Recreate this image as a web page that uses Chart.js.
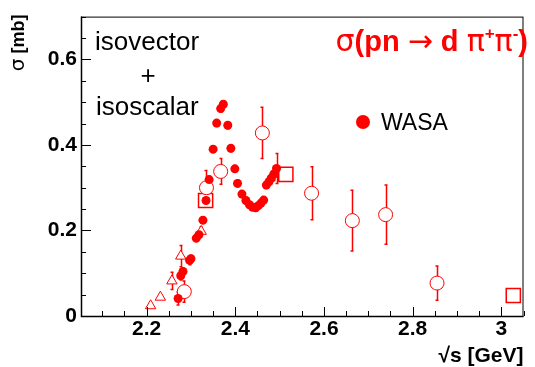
<!DOCTYPE html>
<html>
<head>
<meta charset="utf-8">
<script src="https://cdn.jsdelivr.net/npm/chart.js@4.4.0/dist/chart.umd.min.js"></script>
<style>
  html, body { margin: 0; padding: 0; background: #fff; }
</style>
</head>
<body>
<canvas id="chart" width="535" height="367"></canvas>
<script>
// WASA data (filled dots)
const wasaX = [2.271, 2.277, 2.282, 2.297, 2.300, 2.312, 2.318, 2.327, 2.334, 2.341,
               2.350, 2.358, 2.367, 2.373, 2.383, 2.390, 2.399, 2.405, 2.415, 2.424,
               2.432, 2.439, 2.446, 2.452, 2.458, 2.464, 2.470, 2.476, 2.481, 2.487, 2.493];
const wasaY = [0.041, 0.094, 0.104, 0.130, 0.134, 0.182, 0.190, 0.224, 0.270, 0.319,
               0.390, 0.451, 0.485, 0.495, 0.446, 0.392, 0.344, 0.310, 0.285, 0.270,
               0.260, 0.254, 0.253, 0.258, 0.264, 0.271, 0.306, 0.314, 0.322, 0.332, 0.345];
const wasaErr = [0.015, 0.010, 0.008, 0.010, 0.008, 0.008, 0.008, 0.008, 0.008, 0.008,
                 0.008, 0.008, 0.008, 0.008, 0.008, 0.008, 0.008, 0.008, 0.008, 0.008,
                 0.006, 0.006, 0.006, 0.006, 0.006, 0.006, 0.008, 0.008, 0.010, 0.015, 0.035];

// older measurements: open circles
const circleX = [2.285, 2.335, 2.367, 2.461, 2.572, 2.664, 2.739, 2.855];
const circleY = [0.057, 0.300, 0.338, 0.428, 0.287, 0.223, 0.237, 0.077];
const circleErr = [0.025, 0.040, 0.030, 0.060, 0.062, 0.071, 0.069, 0.040];

// open squares
const squareX = [2.333, 2.514, 3.027];
const squareY = [0.270, 0.331, 0.048];
const squareErr = [0.0, 0.0, 0.010];

// open triangles
const triX = [2.209, 2.231, 2.257, 2.277, 2.323];
const triY = [0.024, 0.044, 0.082, 0.140, 0.198];
const triErr = [0.0, 0.0, 0.020, 0.025, 0.010];

// axis ticks
const xMajor = [2.2, 2.4, 2.6, 2.8, 3.0];
const xTickLabels = ['2.2', '2.4', '2.6', '2.8', '3'];
const yMajor = [0, 0.2, 0.4, 0.6];
const yTickLabels = ['0', '0.2', '0.4', '0.6'];

const RED = '#ff0000';
const TICK_FONT = { family: 'Liberation Sans, Arial, sans-serif', size: 21, weight: 'bold' };

function minorList(from, to, step) {
    const out = [];
    for (let v = from; v <= to + 1e-9; v += step) out.push(Math.round(v * 1000) / 1000);
    return out;
}
const xTicks = minorList(2.1, 3.05, 0.05);
const yTicks = minorList(0, 0.7, 0.05);

function isMajor(list, v) {
    return list.findIndex(m => Math.abs(m - v) < 1e-6);
}

function toPoints(xs, ys) {
    return xs.map((x, i) => ({ x: x, y: ys[i] }));
}

// error bars, frame with inward ticks, and the texts (ROOT style)
const rootStyle = {
    id: 'rootStyle',
    beforeDatasetsDraw(chart) {
        const ctx = chart.ctx;
        const xs = chart.scales.x, ys = chart.scales.y;
        const sets = [[wasaX, wasaY, wasaErr], [circleX, circleY, circleErr],
                      [squareX, squareY, squareErr], [triX, triY, triErr]];
        ctx.save();
        ctx.strokeStyle = RED;
        ctx.lineWidth = 1.5;
        sets.forEach(([X, Y, E]) => {
            X.forEach((x, i) => {
                if (!E[i]) return;
                const px = Math.round(xs.getPixelForValue(x)) + 0.5;
                const top = ys.getPixelForValue(Y[i] + E[i]);
                const bot = ys.getPixelForValue(Y[i] - E[i]);
                ctx.beginPath();
                ctx.moveTo(px, top); ctx.lineTo(px, bot);
                ctx.moveTo(px - 2, top); ctx.lineTo(px + 1, top);
                ctx.moveTo(px - 2, bot); ctx.lineTo(px + 1, bot);
                ctx.stroke();
            });
        });
        ctx.restore();
    },
    afterDraw(chart) {
        const ctx = chart.ctx;
        const a = chart.chartArea;
        const xs = chart.scales.x, ys = chart.scales.y;
        ctx.save();
        ctx.strokeStyle = '#000';
        ctx.lineWidth = 1;
        ctx.strokeRect(a.left + 0.5, a.top + 0.5, a.right - a.left - 1, a.bottom - a.top);
        ctx.lineWidth = 1.5;
        ctx.beginPath();
        ctx.moveTo(a.left + 0.5, a.top); ctx.lineTo(a.left + 0.5, a.bottom + 0.5);
        ctx.lineTo(a.right, a.bottom + 0.5);
        ctx.stroke();
        ctx.lineWidth = 1;
        ctx.beginPath();
        xTicks.forEach(v => {
            const px = Math.round(xs.getPixelForValue(v)) + 0.5;
            const len = isMajor(xMajor, v) >= 0 ? 9 : 5;
            ctx.moveTo(px, a.bottom); ctx.lineTo(px, a.bottom - len);
        });
        yTicks.forEach(v => {
            const py = Math.round(ys.getPixelForValue(v)) + 0.5;
            const len = isMajor(yMajor, v) >= 0 ? 10 : 5;
            ctx.moveTo(a.left, py); ctx.lineTo(a.left + len, py);
        });
        ctx.stroke();

        // axis titles
        ctx.fillStyle = '#000';
        ctx.textBaseline = 'alphabetic';
        ctx.textAlign = 'right';
        ctx.font = 'bold 21px "Liberation Sans", Arial, sans-serif';
        ctx.fillText('\u221As [GeV]', a.right, 362);

        ctx.save();
        ctx.translate(24, a.top - 2);
        ctx.rotate(-Math.PI / 2);
        ctx.textAlign = 'right';
        ctx.font = 'bold 18px "Liberation Sans", Arial, sans-serif';
        const mb = ' [mb]';
        ctx.fillText(mb, 0, 0);
        const w = ctx.measureText(mb).width;
        ctx.font = '20px "DejaVu Sans", sans-serif';
        ctx.fillText('\u03C3', -w, 0);
        ctx.restore();

        // isovector + isoscalar
        ctx.textAlign = 'left';
        ctx.font = '26px "Liberation Sans", Arial, sans-serif';
        ctx.fillText('isovector', 95, 50);
        ctx.textAlign = 'center';
        ctx.fillText('+', 148, 84);
        ctx.textAlign = 'left';
        ctx.fillText('isoscalar', 96, 115);

        // legend
        ctx.fillStyle = RED;
        ctx.beginPath();
        ctx.arc(363, 122, 7, 0, Math.PI * 2);
        ctx.fill();
        ctx.fillStyle = '#000';
        ctx.font = '23px "Liberation Sans", Arial, sans-serif';
        ctx.fillText('WASA', 381, 130);

        // title sigma(pn -> d pi+ pi-)
        ctx.fillStyle = RED;
        const big = 'bold 29px "Liberation Sans", Arial, sans-serif';
        const sym = '30px "DejaVu Sans", sans-serif';
        const sup = 'bold 17px "Liberation Sans", Arial, sans-serif';
        const parts = [
            [sym, '\u03C3', 0], [big, '(pn ', 0], [sym, '\u2192', 0], [big, ' d ', 0],
            [sym, '\u03C0', 0], [sup, '+', -12], [sym, '\u03C0', 0], [sup, '-', -12], [big, ')', 0]
        ];
        let total = 0;
        parts.forEach(p => { ctx.font = p[0]; total += ctx.measureText(p[1]).width; });
        let x = 528 - total;
        parts.forEach(p => {
            ctx.font = p[0];
            ctx.fillText(p[1], x, 51 + p[2]);
            x += ctx.measureText(p[1]).width;
        });
        ctx.restore();
    }
};

const ctx = document.getElementById('chart').getContext('2d');
new Chart(ctx, {
    type: 'scatter',
    data: {
        datasets: [
            { label: 'WASA', data: toPoints(wasaX, wasaY), pointStyle: 'circle', pointRadius: 4.5,
              backgroundColor: RED, borderColor: RED, borderWidth: 0 },
            { label: 'circles', data: toPoints(circleX, circleY), pointStyle: 'circle', pointRadius: 7,
              backgroundColor: '#fff', borderColor: RED, borderWidth: 1 },
            { label: 'squares', data: toPoints(squareX, squareY), pointStyle: 'rect', pointRadius: 10,
              backgroundColor: '#fff', borderColor: RED, borderWidth: 1.5 },
            { label: 'triangles', data: toPoints(triX, triY), pointStyle: 'triangle', pointRadius: 6,
              backgroundColor: '#fff', borderColor: RED, borderWidth: 1 }
        ]
    },
    options: {
        responsive: false,
        animation: false,
        devicePixelRatio: 1,
        layout: { padding: { top: 10, right: 2, left: 0, bottom: 0 } },
        plugins: { legend: { display: false }, tooltip: { enabled: false } },
        scales: {
            x: {
                type: 'linear', min: 2.052, max: 3.05,
                grid: { display: false, drawTicks: false },
                border: { display: false },
                afterBuildTicks: s => { s.ticks = xTicks.map(v => ({ value: v })); },
                afterFit: s => { s.height = 51; },
                ticks: {
                    autoSkip: false, maxRotation: 0, padding: 1, color: '#000', font: TICK_FONT,
                    callback: v => { const i = isMajor(xMajor, v); return i >= 0 ? xTickLabels[i] : ''; }
                }
            },
            y: {
                type: 'linear', min: 0, max: 0.7,
                grid: { display: false, drawTicks: false },
                border: { display: false },
                afterBuildTicks: s => { s.ticks = yTicks.map(v => ({ value: v })); },
                afterFit: s => { s.width = 81; },
                ticks: {
                    autoSkip: false, padding: 4, color: '#000', font: TICK_FONT,
                    callback: v => { const i = isMajor(yMajor, v); return i >= 0 ? yTickLabels[i] : ''; }
                }
            }
        }
    },
    plugins: [rootStyle]
});
</script>
</body>
</html>
